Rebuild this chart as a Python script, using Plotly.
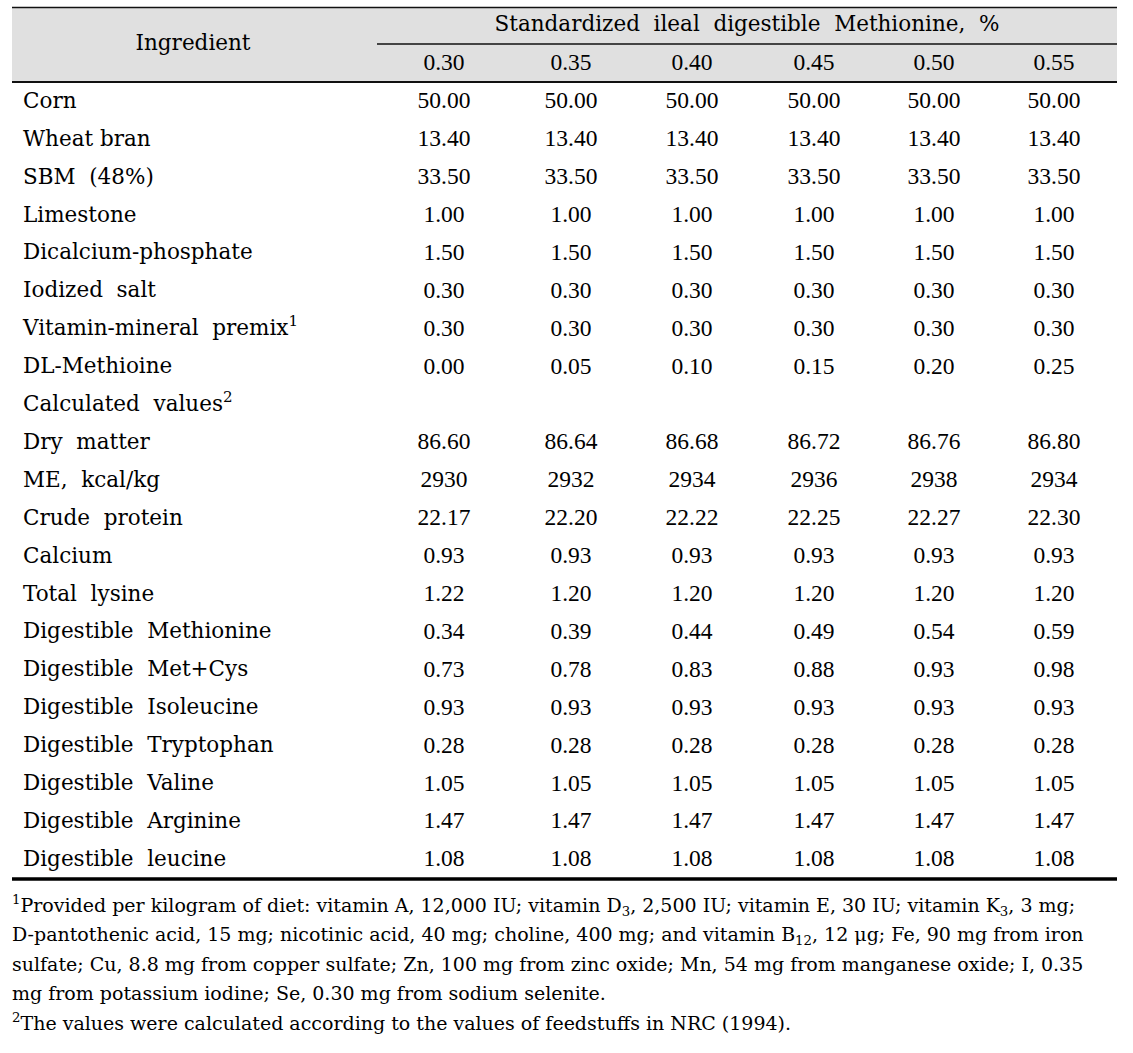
import plotly.graph_objects as go

W, H = 1133, 1053
NB = "\u00a0 "  # wider word gap as in the source

header_title = "Standardized" + NB + "ileal" + NB + "digestible" + NB + "Methionine," + NB + "%"
stub_header = "Ingredient"
levels = ["0.30", "0.35", "0.40", "0.45", "0.50", "0.55"]

ingredients = [
    "Corn", "Wheat bran", "SBM" + NB + "(48%)", "Limestone", "Dicalcium-phosphate",
    "Iodized" + NB + "salt", "Vitamin-mineral" + NB + "premix<sup>1</sup>", "DL-Methioine",
    "Calculated" + NB + "values<sup>2</sup>",
    "Dry" + NB + "matter", "ME," + NB + "kcal/kg", "Crude" + NB + "protein", "Calcium",
    "Total" + NB + "lysine", "Digestible" + NB + "Methionine", "Digestible" + NB + "Met+Cys",
    "Digestible" + NB + "Isoleucine", "Digestible" + NB + "Tryptophan",
    "Digestible" + NB + "Valine", "Digestible" + NB + "Arginine", "Digestible" + NB + "leucine",
]

col_030 = ["50.00", "13.40", "33.50", "1.00", "1.50", "0.30", "0.30", "0.00", "",
           "86.60", "2930", "22.17", "0.93", "1.22", "0.34", "0.73", "0.93", "0.28", "1.05", "1.47", "1.08"]
col_035 = ["50.00", "13.40", "33.50", "1.00", "1.50", "0.30", "0.30", "0.05", "",
           "86.64", "2932", "22.20", "0.93", "1.20", "0.39", "0.78", "0.93", "0.28", "1.05", "1.47", "1.08"]
col_040 = ["50.00", "13.40", "33.50", "1.00", "1.50", "0.30", "0.30", "0.10", "",
           "86.68", "2934", "22.22", "0.93", "1.20", "0.44", "0.83", "0.93", "0.28", "1.05", "1.47", "1.08"]
col_045 = ["50.00", "13.40", "33.50", "1.00", "1.50", "0.30", "0.30", "0.15", "",
           "86.72", "2936", "22.25", "0.93", "1.20", "0.49", "0.88", "0.93", "0.28", "1.05", "1.47", "1.08"]
col_050 = ["50.00", "13.40", "33.50", "1.00", "1.50", "0.30", "0.30", "0.20", "",
           "86.76", "2938", "22.27", "0.93", "1.20", "0.54", "0.93", "0.93", "0.28", "1.05", "1.47", "1.08"]
col_055 = ["50.00", "13.40", "33.50", "1.00", "1.50", "0.30", "0.30", "0.25", "",
           "86.80", "2934", "22.30", "0.93", "1.20", "0.59", "0.98", "0.93", "0.28", "1.05", "1.47", "1.08"]
columns = [col_030, col_035, col_040, col_045, col_050, col_055]

footnotes = [
    "<sup>1</sup>Provided per kilogram of diet: vitamin A, 12,000 IU; vitamin D<sub>3</sub>, 2,500 IU; vitamin E, 30 IU; vitamin K<sub>3</sub>, 3 mg;",
    "D-pantothenic acid, 15 mg; nicotinic acid, 40 mg; choline, 400 mg; and vitamin B<sub>12</sub>, 12 μg; Fe, 90 mg from iron",
    "sulfate; Cu, 8.8 mg from copper sulfate; Zn, 100 mg from zinc oxide; Mn, 54 mg from manganese oxide; I, 0.35",
    "mg from potassium iodine; Se, 0.30 mg from sodium selenite.",
    "<sup>2</sup>The values were calculated according to the values of feedstuffs in NRC (1994).",
]

# ---- layout geometry (pixels) ----
LABEL_FONT = "DejaVu Serif"
NUM_FONT = "Liberation Serif"
FS_LABEL = 21.5
FS_NUM = 23.5
FS_NOTE = 19
left, right = 12, 1117
top_line, sub_line, head_line, bottom_line = 7.5, 44, 82, 879
sub_left = 377
col_x = [444, 571, 692, 814, 934, 1054]
label_x = 23
row_y0, row_dy = 102.5, 37.9
note_y0, note_dy = 907, 29.5

fig = go.Figure()

# grey header band
fig.add_shape(type="rect", x0=left, x1=right, y0=top_line, y1=head_line,
              fillcolor="#e0e0e0", line_width=0, layer="below")
fig.add_shape(type="line", x0=left, x1=right, y0=top_line, y1=top_line, line=dict(color="#111", width=1.5))
fig.add_shape(type="line", x0=sub_left, x1=right, y0=sub_line, y1=sub_line, line=dict(color="#111", width=1.3))
fig.add_shape(type="line", x0=left, x1=right, y0=head_line, y1=head_line, line=dict(color="#111", width=1.8))
fig.add_shape(type="line", x0=left, x1=right, y0=bottom_line, y1=bottom_line, line=dict(color="#000", width=3.5))

lab = dict(family=LABEL_FONT, size=FS_LABEL, color="black")
num = dict(family=NUM_FONT, size=FS_NUM, color="black")

# header texts
fig.add_trace(go.Scatter(x=[193], y=[45], mode="text", text=[stub_header],
                         textposition="middle center", textfont=lab, hoverinfo="skip"))
fig.add_trace(go.Scatter(x=[(sub_left + right) / 2], y=[26], mode="text", text=[header_title],
                         textposition="middle center", textfont=lab, hoverinfo="skip"))
fig.add_trace(go.Scatter(x=col_x, y=[64] * len(levels), mode="text", text=levels,
                         textposition="middle center", textfont=num, hoverinfo="skip"))

# row labels
row_y = [row_y0 + i * row_dy for i in range(len(ingredients))]
fig.add_trace(go.Scatter(x=[label_x] * len(ingredients), y=row_y, mode="text", text=ingredients,
                         textposition="middle right", textfont=lab, hoverinfo="skip"))

# values (empty cells skipped)
for cx, col in zip(col_x, columns):
    ys = [y for y, v in zip(row_y, col) if v]
    vs = [v for v in col if v]
    fig.add_trace(go.Scatter(x=[cx] * len(vs), y=ys, mode="text", text=vs,
                             textposition="middle center", textfont=num, hoverinfo="skip"))

# footnotes
note_y = [note_y0 + i * note_dy for i in range(len(footnotes))]
fig.add_trace(go.Scatter(x=[left] * len(footnotes), y=note_y, mode="text", text=footnotes,
                         textposition="middle right",
                         textfont=dict(family=LABEL_FONT, size=FS_NOTE, color="black"), hoverinfo="skip"))

fig.update_layout(
    width=W, height=H, margin=dict(l=0, r=0, t=0, b=0),
    paper_bgcolor="white", plot_bgcolor="white", showlegend=False,
    xaxis=dict(range=[0, W], visible=False, fixedrange=True),
    yaxis=dict(range=[H, 0], visible=False, fixedrange=True),
)

fig.write_html("out.html", config={"displayModeBar": False},
               post_script="document.body.style.margin='0';")
